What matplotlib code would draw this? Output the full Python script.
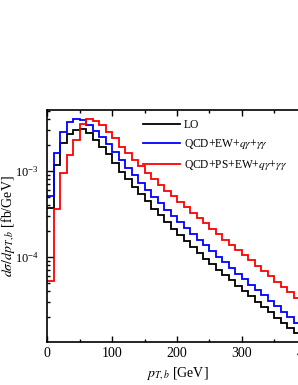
import matplotlib
matplotlib.use("Agg")
import matplotlib.pyplot as plt
import numpy as np
from matplotlib.ticker import MultipleLocator, LogLocator, NullFormatter

plt.rcParams["font.family"] = ["Liberation Serif", "DejaVu Serif"]
plt.rcParams["mathtext.fontset"] = "stix"

# bin edges in pT_b [GeV], 10 GeV bins
edges = np.arange(0, 410, 10)

# d sigma / d pT_b [fb/GeV]
lo = [3.74e-4, 1.17e-3, 2.10e-3, 2.67e-3, 3.00e-3, 3.08e-3, 2.75e-3, 2.29e-3,
      1.92e-3, 1.56e-3, 1.22e-3, 9.79e-4, 7.96e-4, 6.50e-4, 5.34e-4, 4.40e-4,
      3.64e-4, 3.03e-4, 2.53e-4, 2.13e-4, 1.79e-4, 1.52e-4, 1.29e-4, 1.10e-4,
      9.53e-5, 8.21e-5, 7.09e-5, 6.12e-5, 5.31e-5, 4.60e-5, 4.00e-5, 3.47e-5,
      3.01e-5, 2.61e-5, 2.26e-5, 1.96e-5, 1.70e-5, 1.47e-5, 1.28e-5, 1.11e-5]
qcd_ew = [5.03e-4, 1.60e-3, 2.87e-3, 3.69e-3, 4.04e-3, 3.93e-3, 3.43e-3, 2.92e-3,
          2.45e-3, 2.04e-3, 1.68e-3, 1.34e-3, 1.08e-3, 8.86e-4, 7.28e-4, 6.01e-4,
          4.99e-4, 4.17e-4, 3.50e-4, 2.95e-4, 2.51e-4, 2.15e-4, 1.84e-4, 1.58e-4,
          1.36e-4, 1.16e-4, 1.00e-4, 8.60e-5, 7.40e-5, 6.36e-5, 5.48e-5, 4.74e-5,
          4.10e-5, 3.55e-5, 3.07e-5, 2.65e-5, 2.29e-5, 1.98e-5, 1.71e-5, 1.48e-5]
qcd_ps_ew = [5.24e-5, 3.55e-4, 9.35e-4, 1.53e-3, 2.29e-3, 3.50e-3, 4.04e-3, 3.82e-3,
             3.43e-3, 2.87e-3, 2.40e-3, 1.92e-3, 1.60e-3, 1.35e-3, 1.13e-3, 9.53e-4,
             8.06e-4, 6.86e-4, 5.87e-4, 5.03e-4, 4.34e-4, 3.76e-4, 3.27e-4, 2.83e-4,
             2.45e-4, 2.11e-4, 1.83e-4, 1.58e-4, 1.38e-4, 1.20e-4, 1.05e-4, 9.08e-5,
             7.87e-5, 6.82e-5, 5.92e-5, 5.13e-5, 4.45e-5, 3.85e-5, 3.34e-5, 2.90e-5]

labels = ["LO",
          r"QCD+EW+$q\gamma$+$\gamma\gamma$",
          r"QCD+PS+EW+$q\gamma$+$\gamma\gamma$"]
colors = ["black", "#0000ff", "#ff0000"]

fig = plt.figure(figsize=(2.98, 3.85), dpi=100)
# axes runs past the right edge of the figure, as in the reference
ax = fig.add_axes([0.158, 0.112, 0.872, 0.602])

for vals, lab, col in zip([lo, qcd_ew, qcd_ps_ew], labels, colors):
    ax.stairs(vals, edges, baseline=None, color=col, lw=1.3, label=lab)

ax.set_yscale("log")
ax.set_xlim(0, 400)
ax.set_ylim(1.02e-5, 5.1e-3)

ax.xaxis.set_major_locator(MultipleLocator(100))
ax.xaxis.set_minor_locator(MultipleLocator(50))
ax.yaxis.set_major_locator(LogLocator(base=10))
ax.yaxis.set_minor_locator(LogLocator(base=10, subs=np.arange(2, 10)))
ax.yaxis.set_minor_formatter(NullFormatter())
ax.tick_params(which="both", direction="in", top=True, right=True, width=1.0)
ax.tick_params(axis="x", labelsize=10)
ax.tick_params(axis="y", labelsize=9, pad=6)
ax.tick_params(which="major", length=4)
ax.tick_params(which="minor", length=2)
for s in ax.spines.values():
    s.set_linewidth(1.2)

ax.set_xlabel(r"$p_{T,b}$ [GeV]", fontsize=10)
ax.set_ylabel(r"$d\sigma/dp_{T,b}$ [fb/GeV]", fontsize=10)
ax.yaxis.set_label_coords(-0.115, 0.5)

ax.legend(loc="upper left", bbox_to_anchor=(0.465, 0.703),
          bbox_transform=fig.transFigure, frameon=False, fontsize=8.3,
          handlelength=3.2, handletextpad=0.3, labelspacing=0.55,
          borderaxespad=0)

fig.savefig("out.png", dpi=100)
